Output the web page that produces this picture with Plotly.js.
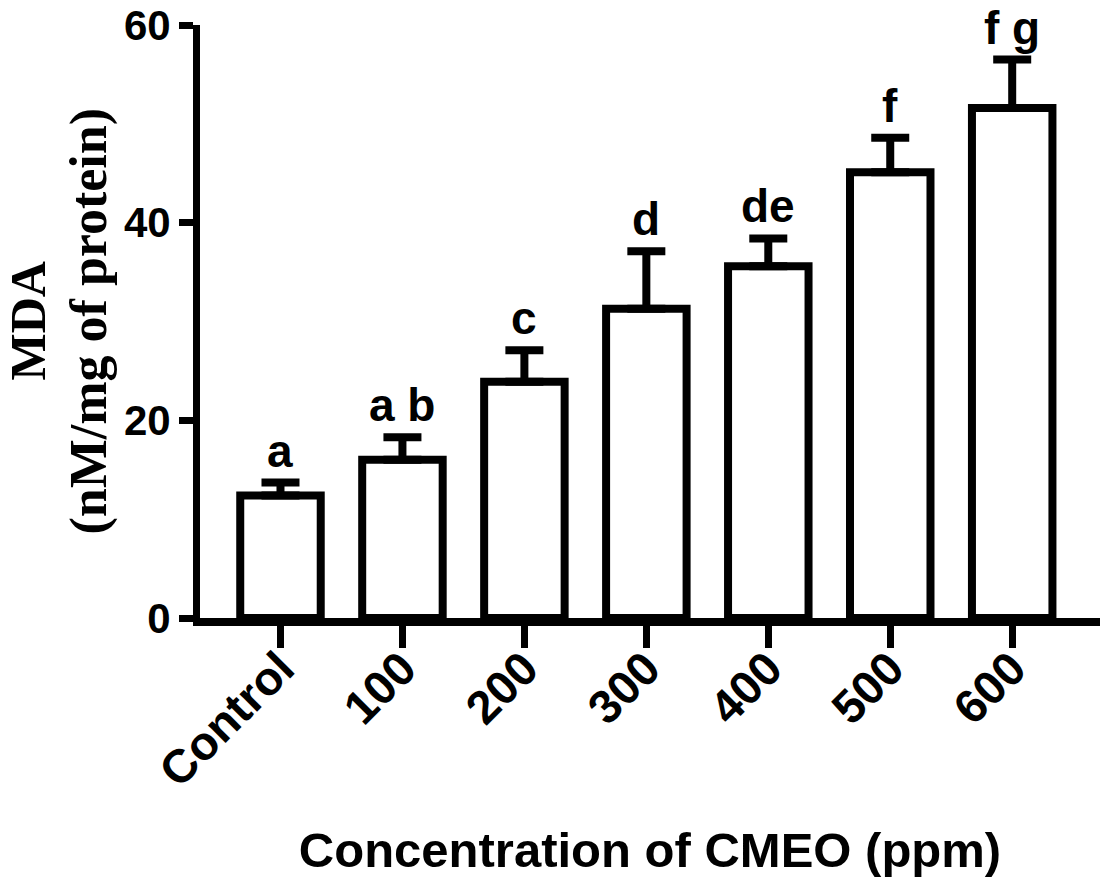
<!DOCTYPE html>
<html>
<head>
<meta charset="utf-8">
<script src="https://cdn.plot.ly/plotly-3.0.1.min.js"></script>
<style>
  html, body { margin: 0; padding: 0; background: #fff; }
  #chart { width: 1102px; height: 883px; }
</style>
</head>
<body>
<div id="chart"></div>
<script>
// MDA level per CMEO concentration, bars = mean, error = SEM (upper only)
const categories = ['Control', '100', '200', '300', '400', '500', '600'];
const meanMDA    = [12.4, 16.0, 23.9, 31.3, 35.6, 45.1, 51.6];
const semMDA     = [1.3, 2.3, 3.2, 5.8, 2.8, 3.5, 4.9];
const groupTags  = ['a', 'a b', 'c', 'd', 'de', 'f', 'f g'];
const yTicks     = [0, 20, 40, 60];

const SANS   = '"Liberation Sans", Arial, sans-serif';
const SERIF  = '"Liberation Serif", "Times New Roman", serif';
const NARROW = '"Liberation Sans Narrow", "Arial Narrow", "Liberation Sans", sans-serif';

const bars = {
  type: 'bar',
  x: categories,
  y: meanMDA,
  width: 0.66,
  marker: { color: '#ffffff', line: { color: '#000000', width: 8 } },
  error_y: {
    type: 'data',
    symmetric: false,
    array: semMDA,
    arrayminus: semMDA.map(() => 0),
    color: '#000000',
    thickness: 8,
    width: 19,
  },
  hoverinfo: 'skip',
};

// significance letters sit just above each error cap
// (category axes place annotations by index, so use i, not the label)
const tagNotes = categories.map((c, i) => ({
  x: i,
  y: meanMDA[i] + semMDA[i],
  xref: 'x', yref: 'y',
  text: groupTags[i],
  showarrow: false,
  yanchor: 'bottom',
  yshift: 4,
  font: { family: SANS, size: 46, weight: 'bold', color: '#000' },
}));

// two-line rotated y title, placed by hand so the line gap matches
const yTitleNotes = [
  { text: 'MDA', xshift: -173, size: 50 },
  { text: '(nM/mg of protein)', xshift: -112, size: 52 },
].map(t => ({
  xref: 'paper', yref: 'paper',
  x: 0, y: 0.5,
  xanchor: 'center', yanchor: 'middle',
  xshift: t.xshift,
  textangle: -90,
  text: t.text,
  showarrow: false,
  font: { family: SERIF, size: t.size, weight: 'bold', color: '#000' },
}));

const layout = {
  width: 1102,
  height: 883,
  paper_bgcolor: '#ffffff',
  plot_bgcolor: '#ffffff',
  margin: { l: 200, r: 2, t: 25, b: 265, pad: 0 },
  showlegend: false,
  xaxis: {
    type: 'category',
    range: [-0.66, 6.72],
    showline: true,
    linecolor: '#000',
    linewidth: 8,
    ticks: 'outside',
    ticklen: 22,
    tickwidth: 7,
    tickcolor: '#000',
    tickangle: -45,
    ticklabelstandoff: -26,
    tickfont: { family: SANS, size: 47, weight: 'bold', color: '#000' },
    showgrid: false,
    zeroline: false,
    fixedrange: true,
    title: {
      text: 'Concentration of CMEO (ppm)',
      font: { family: NARROW, size: 49, weight: 'bold', color: '#000' },
      standoff: 40,
    },
  },
  yaxis: {
    range: [0, 60],
    tickvals: yTicks,
    ticktext: yTicks.map(String),
    showline: true,
    linecolor: '#000',
    linewidth: 7,
    ticks: 'outside',
    ticklen: 14,
    tickwidth: 7,
    tickcolor: '#000',
    ticklabeloverflow: 'allow',
    tickfont: { family: SANS, size: 42, weight: 'bold', color: '#000' },
    showgrid: false,
    zeroline: false,
    fixedrange: true,
  },
  annotations: tagNotes.concat(yTitleNotes),
};

Plotly.newPlot('chart', [bars], layout, { displayModeBar: false, staticPlot: true });
</script>
</body>
</html>
